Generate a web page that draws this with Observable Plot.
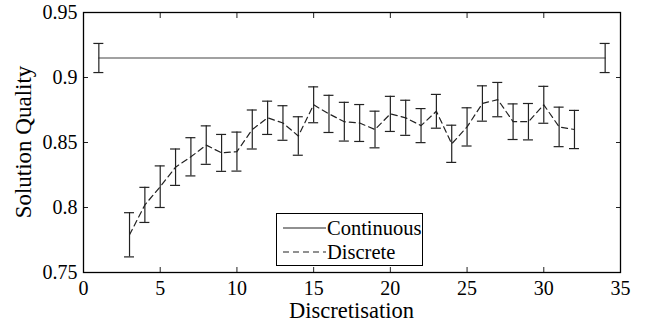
<!DOCTYPE html>
<html>
<head>
<meta charset="utf-8">
<script src="https://cdn.jsdelivr.net/npm/d3@7"></script>
<script src="https://cdn.jsdelivr.net/npm/@observablehq/plot@0.6"></script>
<style>
  html, body { margin: 0; padding: 0; background: white; }
  #wrap { position: relative; width: 652px; height: 327px; font-family: 'Liberation Serif', serif; }
  #wrap svg, #wrap svg text { font-family: 'Liberation Serif', serif !important; }
  #legend { position: absolute; left: 276px; top: 213px; width: 145px; height: 51px; border: 1.2px solid #000; background: #fff; font-family: 'Liberation Serif', serif; font-size: 20.5px; }
  .row { position: absolute; left: 0; height: 24px; display: flex; align-items: center; white-space: nowrap; }
  .row svg { margin-left: 6px; margin-right: 1px; }
</style>
</head>
<body>
<div id="wrap"></div>
<script>
// Discretisation levels (x) for the discrete series
const discX = [3,4,5,6,7,8,9,10,11,12,13,14,15,16,17,18,19,20,21,22,23,24,25,26,27,28,29,30,31,32];
// Mean solution quality (discrete)
const discMean = [0.779,0.802,0.816,0.831,0.839,0.848,0.842,0.843,0.860,0.869,0.865,0.855,0.879,0.872,0.866,0.865,0.860,0.872,0.869,0.863,0.874,0.849,0.862,0.880,0.883,0.866,0.866,0.879,0.862,0.860];
// Half-width of error bars (discrete)
const discErr = [0.017,0.0135,0.016,0.014,0.0147,0.0148,0.0142,0.015,0.015,0.0128,0.0133,0.0148,0.0138,0.0143,0.0149,0.0142,0.0141,0.0135,0.0135,0.0131,0.013,0.0143,0.0147,0.0136,0.0132,0.0137,0.014,0.0142,0.0152,0.0147];
// Continuous series
const contX = [1, 34];
const contMean = [0.915, 0.915];
const contErr = [0.0112, 0.0112];
// Ticks
const xTicks = [0,5,10,15,20,25,30,35];
const yTicks = [0.75,0.8,0.85,0.9,0.95];

const disc = discX.map((x,i) => ({x, y: discMean[i], lo: discMean[i]-discErr[i], hi: discMean[i]+discErr[i]}));
const cont = contX.map((x,i) => ({x, y: contMean[i], lo: contMean[i]-contErr[i], hi: contMean[i]+contErr[i]}));

const ink = "#222";
const errMarks = (data) => [
  Plot.ruleX(data, {x: "x", y1: "lo", y2: "hi", stroke: ink, strokeWidth: 1.2}),
  Plot.ruleY(data, {y: "hi", x1: "x", x2: "x", insetLeft: -5, insetRight: -5, stroke: ink, strokeWidth: 1.2}),
  Plot.ruleY(data, {y: "lo", x1: "x", x2: "x", insetLeft: -5, insetRight: -5, stroke: ink, strokeWidth: 1.2})
];

const chart = Plot.plot({
  width: 652,
  height: 327,
  marginLeft: 83,
  marginRight: 32,
  marginTop: 12,
  marginBottom: 55,
  style: {fontFamily: "'Liberation Serif', serif", fontSize: "20px", background: "white", color: "black"},
  x: {domain: [0, 35]},
  y: {domain: [0.75, 0.95]},
  marks: [
    Plot.axisX({ticks: xTicks, anchor: "bottom", tickSize: 0, tickPadding: 8, label: null, tickFormat: d => String(d)}),
    Plot.axisX({ticks: xTicks.slice(1, -1), anchor: "bottom", tickSize: -5, tickFormat: () => "", label: null, stroke: ink}),
    Plot.axisX({ticks: xTicks.slice(1, -1), anchor: "top", tickSize: -5, tickFormat: () => "", label: null, stroke: ink}),
    Plot.axisY({ticks: yTicks, anchor: "left", tickSize: 0, tickPadding: 6, label: null, tickFormat: d => String(d)}),
    Plot.axisY({ticks: yTicks.slice(1, -1), anchor: "left", tickSize: -5, tickFormat: () => "", label: null, stroke: ink}),
    Plot.axisY({ticks: yTicks.slice(1, -1), anchor: "right", tickSize: -5, tickFormat: () => "", label: null, stroke: ink}),
    Plot.frame({stroke: "#000", strokeWidth: 1.3}),
    Plot.line(cont, {x: "x", y: "y", stroke: "#444", strokeWidth: 1.2}),
    ...errMarks(cont),
    Plot.line(disc, {x: "x", y: "y", stroke: ink, strokeWidth: 1.2, strokeDasharray: "6,4"}),
    ...errMarks(disc)
  ]
});

const wrap = document.getElementById("wrap");
wrap.appendChild(chart);

const svg = d3.select(chart.tagName.toLowerCase() === "svg" ? chart : chart.querySelector("svg"));
svg.append("text")
  .attr("x", (83 + 620) / 2).attr("y", 318)
  .attr("text-anchor", "middle")
  .attr("font-size", 22.5)
  .attr("fill", "black")
  .text("Discretisation");
svg.append("text")
  .attr("transform", `translate(30.5, ${(12 + 272) / 2}) rotate(-90)`)
  .attr("text-anchor", "middle")
  .attr("font-size", 23)
  .attr("fill", "black")
  .text("Solution Quality");

const legend = document.createElement("div");
legend.id = "legend";
legend.innerHTML = `
  <div class="row" style="top:2px"><svg width="43" height="10"><line x1="0" y1="5" x2="43" y2="5" stroke="#222" stroke-width="1.2"/></svg><span>Continuous</span></div>
  <div class="row" style="top:26px"><svg width="43" height="10"><line x1="0" y1="5" x2="43" y2="5" stroke="#222" stroke-width="1.2" stroke-dasharray="6,4"/></svg><span>Discrete</span></div>`;
wrap.appendChild(legend);
</script>
</body>
</html>
